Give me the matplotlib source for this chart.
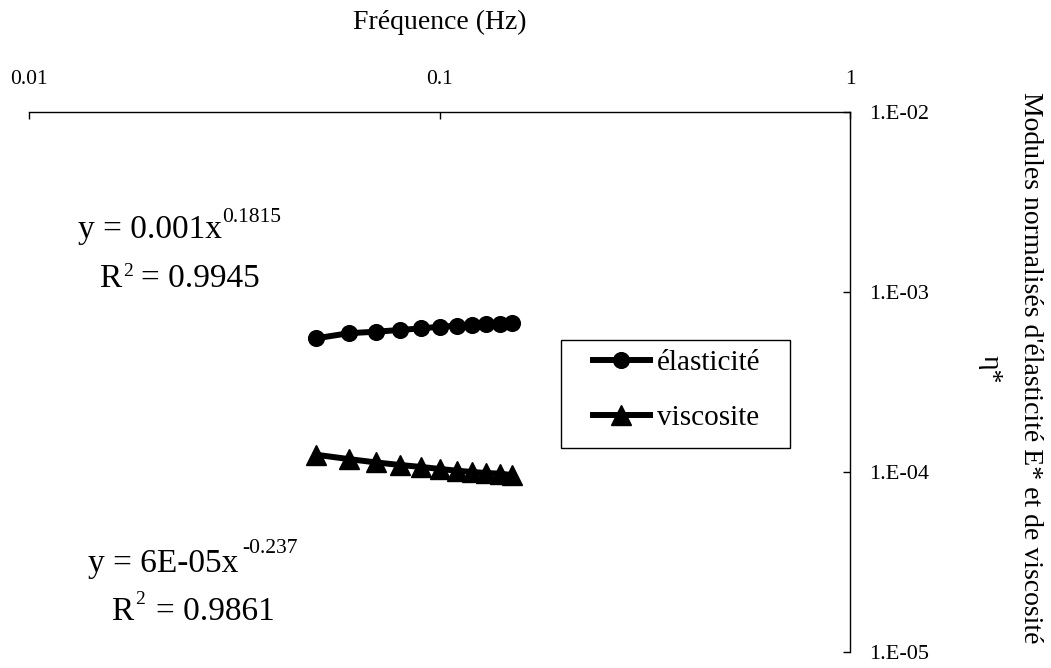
import numpy as np
import matplotlib
matplotlib.use("Agg")
import matplotlib.pyplot as plt
from matplotlib.patches import Rectangle

# ===============================
# Data
# ===============================
freq = [0.05, 0.06, 0.07, 0.08, 0.09, 0.10, 0.11, 0.12, 0.13, 0.14, 0.15]
elasticite = [5.53e-4, 5.90e-4, 6.02e-4, 6.15e-4, 6.28e-4, 6.41e-4,
              6.50e-4, 6.56e-4, 6.62e-4, 6.64e-4, 6.75e-4]
viscosite = [1.247e-4, 1.18e-4, 1.13e-4, 1.094e-4, 1.067e-4, 1.04e-4,
             1.017e-4, 1.00e-4, 0.987e-4, 0.979e-4, 0.962e-4]

x_ticks = [0.01, 0.1, 1]
x_labels = ["0.01", "0.1", "1"]
y_ticks = [1e-5, 1e-4, 1e-3, 1e-2]
y_labels = ["1.E-05", "1.E-04", "1.E-03", "1.E-02"]

# trendline labels: (base, exponent, R2)
eq_elast = ("y = 0.001x", "0.1815", "0.9945")
eq_visc = ("y = 6E-05x", "-0.237", "0.9861")

# ===============================
# Figure
# ===============================
plt.rcParams["font.family"] = ["Liberation Serif", "DejaVu Serif"]

W, H = 1051, 668
fig = plt.figure(figsize=(W / 100, H / 100), dpi=100)
ax = fig.add_axes([29.3 / W, (H - 652) / H, 820.7 / W, 540 / H])


def px(x, y):
    # pixel position (from top-left) -> figure fraction
    return x / W, 1 - y / H


ax.plot(freq, elasticite, color="black", lw=4.3, marker="o", ms=11.3,
        label="élasticité")
ax.plot(freq, viscosite, color="black", lw=4.3, marker="^", ms=14,
        label="viscosite")

ax.set_xscale("log")
ax.set_yscale("log")
ax.set_xlim(0.01, 1)
ax.set_ylim(1e-5, 1e-2)

# axes drawn on top and right only
for side in ["left", "bottom"]:
    ax.spines[side].set_visible(False)
for side in ["top", "right"]:
    ax.spines[side].set_linewidth(1.0)

ax.xaxis.tick_top()
ax.yaxis.tick_right()
ax.set_xticks(x_ticks)
ax.set_xticklabels(x_labels)
ax.set_yticks(y_ticks)
ax.set_yticklabels(y_labels)
ax.minorticks_off()
ax.tick_params(axis="x", direction="in", length=5, width=1.0, pad=16.5, labelsize=15.5)
ax.tick_params(axis="y", direction="in", length=5, width=1.0, pad=14, labelsize=16)

fig.text(*px(440, 22), "Fréquence (Hz)", ha="center", va="center", fontsize=20)
fig.text(*px(1030, 367.5), "Modules normalisés d'élasticité E* et de viscosité",
         rotation=-90, ha="center", va="center", fontsize=20)
fig.text(*px(990, 369), "η*", rotation=-90, ha="center", va="center", fontsize=20)

# ===============================
# Trendline equations
# ===============================
def equation(eq, x0, y0, sx, sy, rx, ry, r2x, r2y, eqx):
    base, expo, r2 = eq
    fig.text(*px(x0, y0), base, ha="left", va="baseline", fontsize=24)
    fig.text(*px(sx, sy), expo, ha="left", va="baseline", fontsize=15.5)
    fig.text(*px(rx, ry), "R", ha="left", va="baseline", fontsize=24)
    fig.text(*px(r2x, r2y), "2", ha="left", va="baseline", fontsize=14)
    fig.text(*px(eqx, ry), "= " + r2, ha="left", va="baseline", fontsize=24)


equation(eq_elast, 78, 238, 222, 222, 99, 287, 123, 276, 141)
equation(eq_visc, 88, 572, 242, 553, 111, 620, 135, 604, 156)

# ===============================
# Legend with its own frame
# ===============================
leg = ax.legend(loc="center left", bbox_to_anchor=px(593, 390.5),
                bbox_transform=fig.transFigure, frameon=False, fontsize=21,
                handlelength=1.95, handletextpad=0.24, labelspacing=0.97,
                borderpad=0, borderaxespad=0)
fx0, fy0 = px(561, 448)
fx1, fy1 = px(790, 340)
fig.patches.append(Rectangle((fx0, fy0), fx1 - fx0, fy1 - fy0,
                             transform=fig.transFigure, fill=False,
                             edgecolor="black", lw=1.0))

fig.savefig("out.png", dpi=100)
